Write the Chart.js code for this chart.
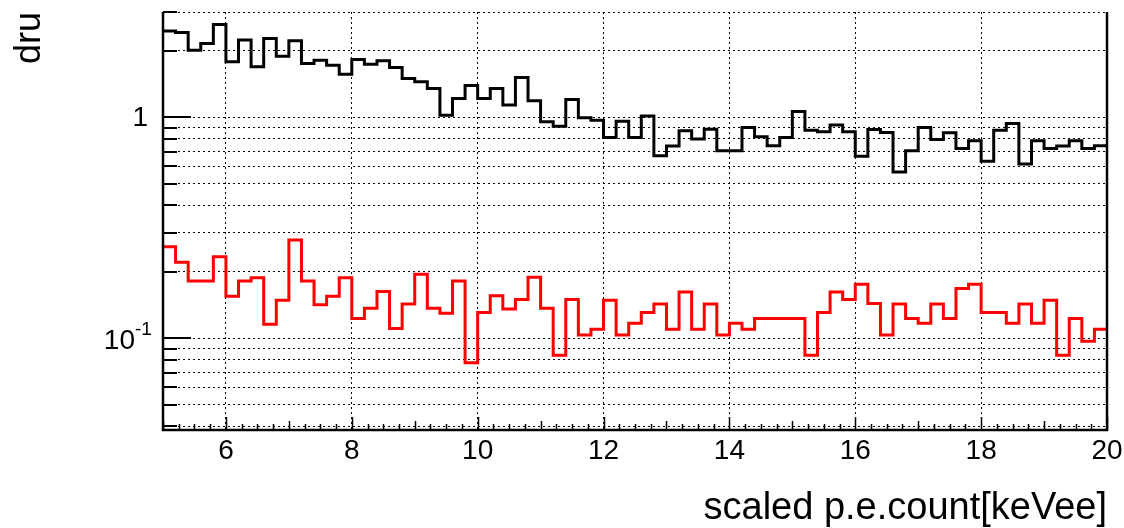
<!DOCTYPE html>
<html>
<head>
<meta charset="utf-8">
<script src="https://cdn.jsdelivr.net/npm/chart.js@4/dist/chart.umd.min.js"></script>
<style>
  html, body { margin: 0; padding: 0; background: #fff; }
  #wrap { width: 1124px; height: 528px; }
</style>
</head>
<body>
<div id="wrap"><canvas id="c" width="1124" height="528"></canvas></div>
<script>
// Bin low edges (keVee), last entry is the upper edge of the final bin
const binEdges = [5.0,5.2,5.4,5.6,5.8,6.0,6.2,6.4,6.6,6.8,7.0,7.2,7.4,7.6,7.8,8.0,8.2,8.4,8.6,8.8,
  9.0,9.2,9.4,9.6,9.8,10.0,10.2,10.4,10.6,10.8,11.0,11.2,11.4,11.6,11.8,12.0,12.2,12.4,12.6,12.8,
  13.0,13.2,13.4,13.6,13.8,14.0,14.2,14.4,14.6,14.8,15.0,15.2,15.4,15.6,15.8,16.0,16.2,16.4,16.6,16.8,
  17.0,17.2,17.4,17.6,17.8,18.0,18.2,18.4,18.6,18.8,19.0,19.2,19.4,19.6,19.8,20.0];

// Black histogram (dru)
const blackValues = [2.458,2.424,2.016,2.162,2.635,1.785,2.238,1.694,2.278,1.894,
  2.222,1.755,1.816,1.724,1.570,1.830,1.742,1.804,1.684,1.501,
  1.449,1.353,1.024,1.219,1.393,1.219,1.353,1.137,1.517,1.189,
  0.955,0.913,1.206,0.996,0.972,0.812,0.962,0.812,1.014,0.670,
  0.742,0.870,0.798,0.885,0.706,0.706,0.901,0.817,0.744,0.812,
  1.064,0.876,0.861,0.923,0.861,0.668,0.882,0.855,0.567,0.706,
  0.901,0.795,0.852,0.724,0.784,0.634,0.876,0.939,0.615,0.784,
  0.724,0.742,0.784,0.724,0.744];

// Red histogram (dru)
const redValues = [0.260,0.221,0.182,0.182,0.234,0.155,0.182,0.188,0.116,0.149,
  0.279,0.182,0.142,0.155,0.188,0.123,0.137,0.163,0.111,0.143,
  0.195,0.137,0.130,0.182,0.0775,0.131,0.156,0.136,0.150,0.189,
  0.137,0.084,0.150,0.1035,0.110,0.149,0.1035,0.117,0.131,0.143,
  0.110,0.162,0.110,0.143,0.1035,0.117,0.110,0.123,0.123,0.123,
  0.123,0.084,0.131,0.162,0.150,0.176,0.144,0.1035,0.143,0.123,
  0.117,0.143,0.123,0.168,0.176,0.131,0.131,0.117,0.143,0.117,
  0.149,0.084,0.123,0.097,0.110];

const xTickValues = [6, 8, 10, 12, 14, 16, 18, 20];
const yGridValues = [0.04,0.05,0.06,0.07,0.08,0.09,0.1,0.2,0.3,0.4,0.5,0.6,0.7,0.8,0.9,1,2,3];
const yMajorValues = [0.1, 1];
const xLabel = 'scaled p.e.count[keVee]';
const yLabel = 'dru';

const FONT = "'Liberation Sans', Arial, Helvetica, sans-serif";

function toSteps(values) {
  const pts = values.map((v, i) => ({ x: binEdges[i], y: v }));
  pts.push({ x: binEdges[binEdges.length - 1], y: values[values.length - 1] });
  return pts;
}

const framePlugin = {
  id: 'frame',
  afterDraw(chart) {
    const { ctx, chartArea: a } = chart;
    const xs = chart.scales.x, ys = chart.scales.y;
    ctx.save();
    ctx.strokeStyle = '#000';
    ctx.setLineDash([]);
    // y ticks (inside frame)
    ctx.lineWidth = 2;
    yGridValues.forEach(v => {
      const y = Math.round(ys.getPixelForValue(v));
      const len = yMajorValues.includes(v) ? 28 : 14;
      ctx.beginPath(); ctx.moveTo(a.left, y); ctx.lineTo(a.left + len, y); ctx.stroke();
    });
    // x ticks (inside frame)
    ctx.lineWidth = 1.5;
    for (let k = 0; k <= 60; k++) {
      const v = 5 + k * 0.25;
      const x = Math.round(xs.getPixelForValue(v)) + 0.5;
      let len = 6;
      if (Math.abs(v - Math.round(v)) < 1e-6) len = (Math.round(v) % 2 === 0) ? 13 : 9;
      ctx.beginPath(); ctx.moveTo(x, a.bottom); ctx.lineTo(x, a.bottom - len); ctx.stroke();
    }
    // frame: left, bottom, right
    ctx.lineWidth = 2.5;
    ctx.beginPath();
    ctx.moveTo(a.left, a.top); ctx.lineTo(a.left, a.bottom); ctx.lineTo(a.right, a.bottom); ctx.lineTo(a.right, a.top);
    ctx.stroke();
    // y tick labels
    ctx.fillStyle = '#000';
    ctx.textBaseline = 'middle';
    ctx.textAlign = 'right';
    ctx.font = '28px ' + FONT;
    const y1 = ys.getPixelForValue(1);
    ctx.fillText('1', a.left - 15, y1 + 1);
    const y01 = ys.getPixelForValue(0.1);
    ctx.fillText('10', a.left - 28, y01 + 3);
    ctx.textAlign = 'left';
    ctx.font = '19px ' + FONT;
    ctx.fillText('-1', a.left - 28, y01 - 9);
    ctx.restore();
  }
};

new Chart(document.getElementById('c'), {
  type: 'line',
  data: {
    datasets: [
      { label: 'black', data: toSteps(blackValues), borderColor: '#000', borderWidth: 3, stepped: 'before', pointRadius: 0, fill: false, tension: 0 },
      { label: 'red', data: toSteps(redValues), borderColor: '#ff0000', borderWidth: 3, stepped: 'before', pointRadius: 0, fill: false, tension: 0 }
    ]
  },
  options: {
    responsive: false,
    animation: false,
    devicePixelRatio: 1,
    layout: { padding: { top: 12, right: 17, left: 0, bottom: 0 } },
    plugins: { legend: { display: false }, tooltip: { enabled: false } },
    scales: {
      x: {
        type: 'linear', min: 5, max: 20,
        afterBuildTicks: s => { s.ticks = xTickValues.map(v => ({ value: v })); },
        afterFit: s => { s.height = 98; s.paddingRight = 0; s.paddingLeft = 0; },
        grid: { color: '#000', lineWidth: 1, drawTicks: false },
        border: { display: false, dash: [2, 3] },
        ticks: { color: '#000', font: { size: 28, family: FONT }, padding: 4, maxRotation: 0, autoSkip: false },
        title: { display: true, text: xLabel, align: 'end', color: '#000', font: { size: 38, family: FONT }, padding: { top: 0, bottom: -3 } }
      },
      y: {
        type: 'logarithmic', min: 0.0385, max: 3.0,
        afterBuildTicks: s => { s.ticks = yGridValues.map(v => ({ value: v })); },
        afterFit: s => { s.width = 163; },
        grid: { color: '#000', lineWidth: 1, drawTicks: false },
        border: { display: false, dash: [2, 3] },
        ticks: { display: false },
        title: { display: true, text: yLabel, align: 'end', color: '#000', font: { size: 36, family: FONT }, padding: { top: 8, bottom: 0 } }
      }
    }
  },
  plugins: [framePlugin]
});
</script>
</body>
</html>
